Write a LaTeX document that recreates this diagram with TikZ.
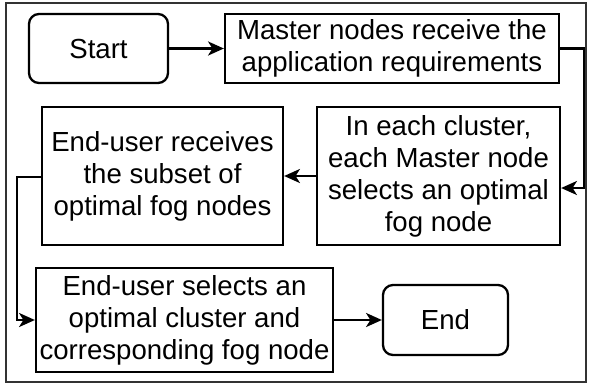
\documentclass[tikz,border=0pt]{standalone}
\usepackage{fontspec}
\setmainfont{Liberation Sans}
\usepackage{tikz}
\usetikzlibrary{positioning, shapes.misc, arrows.meta}
\tikzstyle{term} = [rectangle, rounded corners=0.2cm, minimum width=2.78cm, minimum height=1.38cm, text centered, draw=black, line width=1.3pt]
\tikzstyle{proc} = [rectangle, text centered, align=center, draw=black, line width=1.3pt, inner sep=0pt]
\tikzstyle{arrow} = [line width=1.3pt,-{Stealth[length=9pt,width=8pt,inset=2.5pt]}]

\begin{document}
\begin{tikzpicture}[node distance=3cm, font=\fontsize{15.7}{18.2}\selectfont]
\useasboundingbox (0,0) rectangle (11.78,-7.70);
\draw [line width=1.3pt, draw=black!80] (0.12,-0.06) rectangle (11.72,-7.64);

\node (start) [term] at (1.97,-0.97) {Start};
\node (master) [proc, right of=start, xshift=2.87cm, minimum width=6.68cm, minimum height=1.38cm] {Master nodes receive the\\application requirements};

\node (cluster) [proc, below of=master, yshift=0.45cm, xshift=0.93cm, minimum width=4.86cm, minimum height=2.76cm] {In each cluster,\\each Master node\\selects an optimal\\fog node};
\node (recv) [proc, left of=cluster, xshift=-2.52cm, minimum width=4.82cm, minimum height=2.76cm] {End-user receives\\the subset of\\optimal fog nodes};

\node (choose) [proc, below of=recv, yshift=0.12cm, xshift=0.44cm, minimum width=5.94cm, minimum height=2.08cm] {End-user selects an\\optimal cluster and\\corresponding fog node};
\node (stop) [term, right of=choose, xshift=2.22cm, minimum width=2.5cm, minimum height=1.4cm] {End};

\draw [arrow] (start) -- (master);
\draw [arrow] (master.east) -- ++(0.48,0) |- ([yshift=-0.24cm]cluster.east);
\draw [arrow] (cluster) -- (recv);
\draw [arrow] ([yshift=-0.02cm]recv.west) -- ++(-0.48,0) |- (choose.west);
\draw [arrow] (choose) -- (stop);
\end{tikzpicture}
\end{document}
